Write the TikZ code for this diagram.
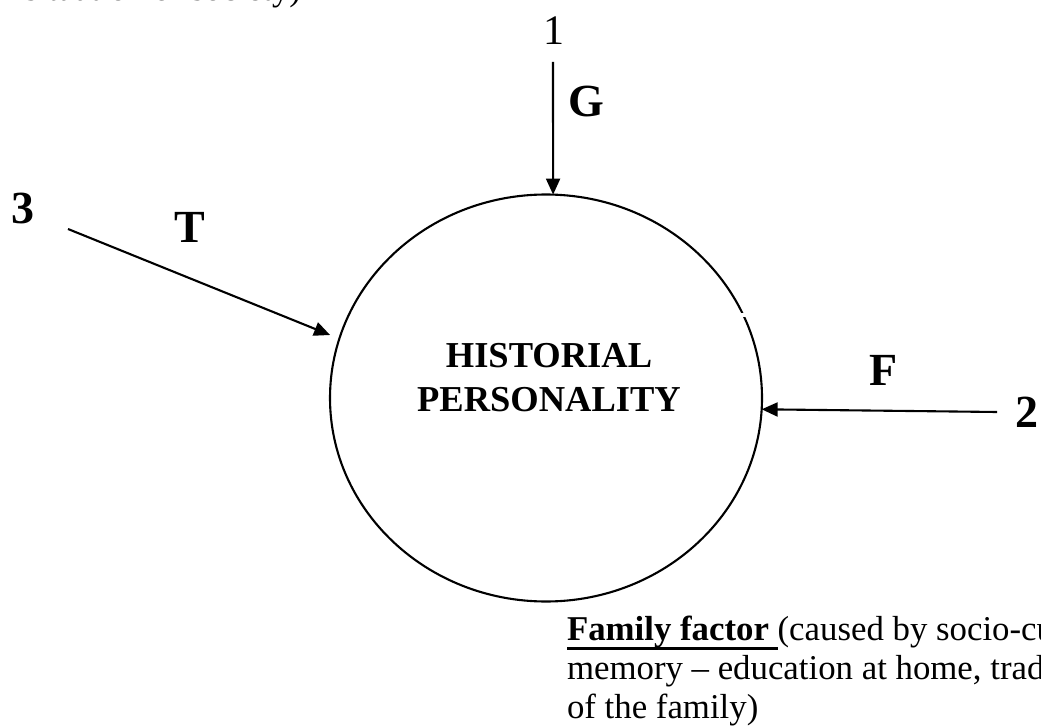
\documentclass[tikz,border=0pt]{standalone}
\usepackage{fontspec}
\setmainfont{Liberation Serif}
\usetikzlibrary{arrows.meta,shapes.geometric}
\newcommand\myul[1]{\setbox0\hbox{#1}\rlap{\rule[-9.5pt]{\wd0}{2.8pt}}\box0}
\begin{document}
\begin{tikzpicture}[x=1pt,y=-1pt,
  arr/.style={line width=2.1pt,-{Triangle[length=16pt,width=14pt]}},
  lbl/.style={inner sep=0pt,outer sep=0pt,font=\bfseries\fontsize{46}{54}\selectfont},
  body/.style={inner sep=0pt,outer sep=0pt,font=\fontsize{34.8}{39}\selectfont},
  ttl/.style={inner sep=0pt,outer sep=0pt,font=\bfseries\fontsize{36.5}{44}\selectfont},
  hpshape/.style={draw,ellipse,line width=2.1pt,minimum width=432pt,minimum height=407pt,inner sep=0pt,outer sep=0pt}
]
\useasboundingbox (0,0) rectangle (1041,727);
\begin{scope}
\clip (0,0) rectangle (1041,727);
\node[body,anchor=base east] (toptext) at (301,1) {situation of society)};
\node[body,anchor=base west] (fam1) at (567,640) {{\bfseries\myul{Family factor\ }}(caused by socio-cultural};
\node[body,anchor=base west] (fam2) at (567,679) {memory – education at home, traditions};
\node[body,anchor=base west] (fam3) at (567,718) {of the family)};
\end{scope}

\node[hpshape] (hp) at (546,398) {};
\draw[white,line width=4pt] (740,315) -- (749,315);
\node[ttl,anchor=base] (hp1) at (549,367) {HISTORIAL};
\node[ttl,anchor=base] (hp2) at (549,411) {PERSONALITY};

\node[inner sep=0pt,outer sep=0pt,font=\fontsize{42}{50}\selectfont,anchor=base] (n1) at (554,45) {1};
\node[lbl,anchor=base west] (lG) at (568,117) {G};
\node[lbl,anchor=base west] (n3) at (12,224) {3};
\node[lbl,anchor=base] (lT) at (190,243) {T};
\node[lbl,anchor=base west] (lF) at (869,385) {F};
\node[lbl,anchor=base west] (n2) at (1015,427) {2};

\coordinate (s1) at (553,62);
\coordinate (s3) at (68,229);
\coordinate (s2) at (997,412);
\draw[arr] (s1) -- (hp.88);
\draw[arr,shorten >=10pt] (s3) -- (hp.164.7);
\draw[arr] (s2) -- (hp.-3.7);
\end{tikzpicture}
\end{document}
